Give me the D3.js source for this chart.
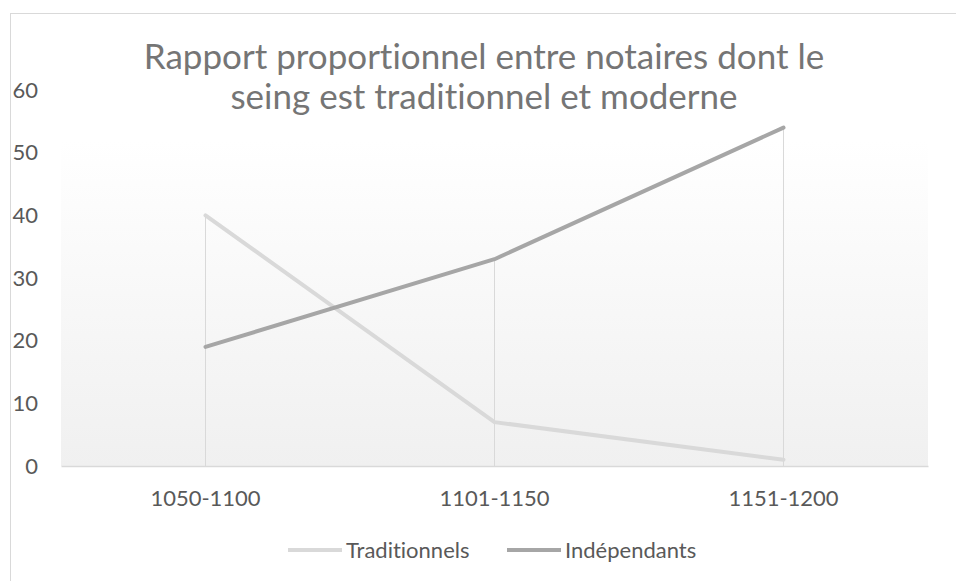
<!DOCTYPE html>
<html>
<head>
<meta charset="utf-8">
<script src="https://cdn.jsdelivr.net/npm/d3@7"></script>
<style>
  body { margin: 0; background: #fff; }
  svg { display: block; font-family: Lato, "Open Sans", sans-serif; font-variant-ligatures: none; }
</style>
</head>
<body>
<div class="chart-box"></div>
<script>
let periods = ["1050-1100", "1101-1150", "1151-1200"];
let traditionnels = [40, 7, 1];
let independants = [19, 33, 54];
let yTicks = [0, 10, 20, 30, 40, 50, 60];
let titleLines = ["Rapport proportionnel entre notaires dont le", "seing est traditionnel et moderne"];
let seriesNames = ["Traditionnels", "Indépendants"];

let width = 956, height = 581;
let plot = {left: 61, right: 928, top: 90, bottom: 466};
let font = "Lato, 'Open Sans', sans-serif";

let svg = d3.select(".chart-box")
  .append("svg")
  .attr("width", width)
  .attr("height", height);

// chart border (right & bottom edges are off the picture)
svg.append("rect")
  .attr("x", 10.5).attr("y", 13.5)
  .attr("width", 1000).attr("height", 1000)
  .attr("fill", "#fff")
  .attr("stroke", "#d9d9d9");

let x = d3.scaleBand()
  .domain(periods)
  .range([plot.left, plot.right]);
let xc = d => x(d) + x.bandwidth() / 2;

let y = d3.scaleLinear()
  .domain([0, 60])
  .range([plot.bottom, plot.top]);

// plot area gradient (top is hidden under the title box)
let grad = svg.append("defs").append("linearGradient")
  .attr("id", "bg").attr("x1", 0).attr("y1", 0).attr("x2", 0).attr("y2", 1);
grad.append("stop").attr("offset", "0%").attr("stop-color", "#ffffff");
grad.append("stop").attr("offset", "100%").attr("stop-color", "#f0f0f0");

svg.append("rect")
  .attr("x", plot.left).attr("y", 140)
  .attr("width", plot.right - plot.left).attr("height", plot.bottom - 140)
  .attr("fill", "url(#bg)");

// drop lines
let tops = periods.map((p, i) => Math.max(traditionnels[i], independants[i]));
svg.append("g")
  .selectAll("line")
  .data(periods)
  .enter()
  .append("line")
  .attr("x1", d => xc(d)).attr("x2", d => xc(d))
  .attr("y1", (d, i) => y(tops[i])).attr("y2", y(0))
  .attr("stroke", "#d9d9d9")
  .attr("stroke-width", 1);

// x axis
let xAxis = svg.append("g")
  .attr("transform", `translate(0,${plot.bottom})`)
  .call(d3.axisBottom(x).tickSize(0).tickPadding(24));
xAxis.attr("font-family", font);
xAxis.select(".domain").attr("stroke", "#d9d9d9").attr("stroke-width", 1.3);
xAxis.selectAll("text")
  .attr("fill", "#595959")
  .style("font-size", "22px");

// y axis labels
let yAxis = svg.append("g")
  .attr("transform", `translate(38,0)`)
  .call(d3.axisLeft(y).tickValues(yTicks).tickSize(0).tickPadding(0));
yAxis.attr("font-family", font);
yAxis.select(".domain").remove();
yAxis.selectAll("text")
  .attr("fill", "#595959")
  .style("font-size", "22px");

// series
let line = d3.line()
  .x((d, i) => xc(periods[i]))
  .y(d => y(d));

let series = [
  {name: seriesNames[0], values: traditionnels, color: "#d9d9d9"},
  {name: seriesNames[1], values: independants, color: "#a6a6a6"}
];

svg.append("g")
  .selectAll("path")
  .data(series)
  .enter()
  .append("path")
  .attr("d", d => line(d.values))
  .attr("fill", "none")
  .attr("stroke", d => d.color)
  .attr("stroke-width", 4)
  .attr("stroke-linecap", "round")
  .attr("stroke-linejoin", "round");

// title
svg.append("g")
  .selectAll("text")
  .data(titleLines)
  .enter()
  .append("text")
  .attr("x", 484)
  .attr("y", (d, i) => 69 + i * 40)
  .attr("text-anchor", "middle")
  .attr("fill", "#757575")
  .style("font-size", "35px")
  .text(d => d);

// legend
let legendX = [288, 507];
let legend = svg.append("g")
  .selectAll("g")
  .data(series)
  .enter()
  .append("g")
  .attr("transform", (d, i) => `translate(${legendX[i]},550)`);
legend.append("line")
  .attr("x1", 0).attr("x2", 54)
  .attr("stroke", d => d.color)
  .attr("stroke-width", 4);
legend.append("text")
  .attr("x", 58)
  .attr("dy", "0.35em")
  .attr("fill", "#595959")
  .style("font-size", "22px")
  .text(d => d.name);
</script>
</body>
</html>
